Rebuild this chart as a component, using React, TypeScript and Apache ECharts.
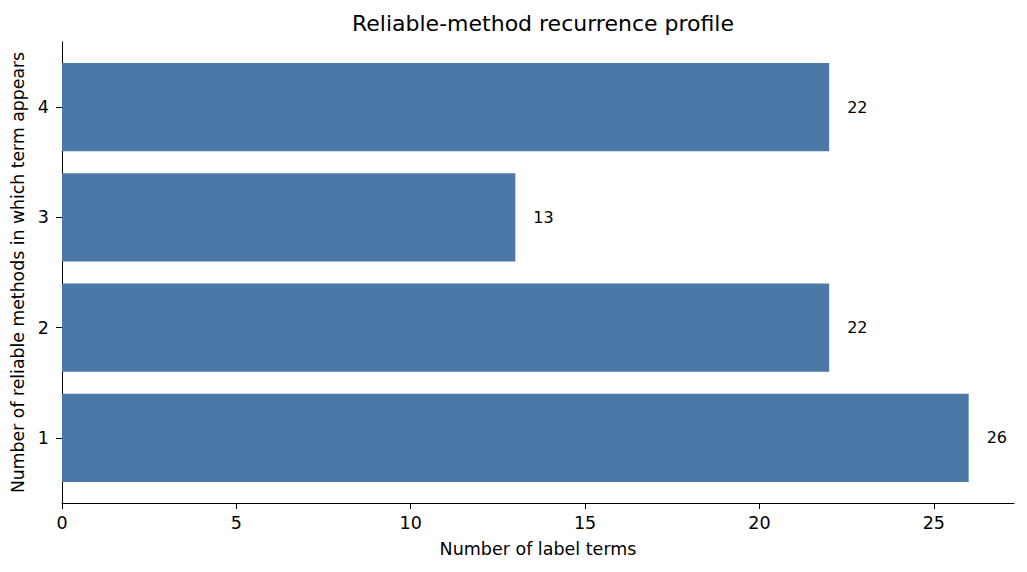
import React, { useEffect, useRef } from "react";
import * as echarts from "echarts";

const categories = [1, 2, 3, 4];
const values = [26, 22, 13, 22];
const xTicks = [0, 5, 10, 15, 20, 25];

const FONT = "DejaVu Sans";

export default function App() {
  const ref = useRef<HTMLDivElement>(null);
  useEffect(() => {
    if (!ref.current) return;
    const chart = echarts.init(ref.current, null, { renderer: "svg" });
    const data = categories.map((c, i) => [values[i], c]);
    chart.setOption({
      animation: false,
      backgroundColor: "#ffffff",
      title: {
        text: "Reliable-method recurrence profile",
        left: 538,
        top: 7,
        textAlign: "center",
        textStyle: { fontFamily: FONT, fontSize: 22, fontWeight: "normal", color: "#000" },
      },
      grid: { left: 62, right: 13, top: 42, bottom: 69 },
      xAxis: {
        type: "value",
        min: 0,
        max: 27.3,
        name: "Number of label terms",
        nameLocation: "middle",
        nameGap: 37,
        nameTextStyle: { fontFamily: FONT, fontSize: 17.5, color: "#000" },
        splitLine: { show: false },
        axisLine: { show: true, onZero: false, lineStyle: { color: "#000", width: 1 } },
        axisTick: { show: true, length: 6, customValues: xTicks, lineStyle: { color: "#000" } },
        axisLabel: { customValues: xTicks, fontFamily: FONT, fontSize: 17.5, color: "#000", margin: 11 },
      },
      yAxis: {
        type: "value",
        min: 0.41,
        max: 4.59,
        name: "Number of reliable methods in which term appears",
        nameLocation: "middle",
        nameGap: 29,
        nameTextStyle: { fontFamily: FONT, fontSize: 17.3, color: "#000" },
        splitLine: { show: false },
        axisLine: { show: true, onZero: false, lineStyle: { color: "#000", width: 1 } },
        axisTick: { show: true, length: 6, customValues: categories, lineStyle: { color: "#000" } },
        axisLabel: { customValues: categories, fontFamily: FONT, fontSize: 17.5, color: "#000", margin: 13 },
      },
      series: [
        {
          type: "custom",
          data,
          renderItem: (params: any, api: any) => {
            const v = api.value(0);
            const c = api.value(1);
            const p0 = api.coord([0, c + 0.4]);
            const p1 = api.coord([v, c - 0.4]);
            const lbl = api.coord([v, c]);
            return {
              type: "group",
              children: [
                {
                  type: "rect",
                  shape: { x: p0[0], y: p0[1], width: p1[0] - p0[0], height: p1[1] - p0[1] },
                  style: { fill: "#4c78a8" },
                },
                {
                  type: "text",
                  x: lbl[0] + 18,
                  y: lbl[1],
                  style: {
                    text: String(v),
                    fontFamily: FONT,
                    fontSize: 16,
                    fill: "#000",
                    verticalAlign: "middle",
                    align: "left",
                  },
                },
              ],
            };
          },
        },
      ],
    });
    return () => chart.dispose();
  }, []);
  return (
    <div
      ref={ref}
      style={{ position: "absolute", left: 0, top: 0, width: 1027, height: 572 }}
    />
  );
}
